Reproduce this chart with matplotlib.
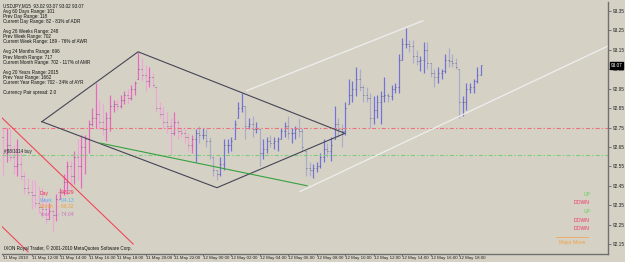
import matplotlib
matplotlib.use("Agg")
import matplotlib.pyplot as plt

plt.rcParams['lines.scale_dashes'] = False
plt.rcParams['font.family'] = ['Liberation Sans', 'DejaVu Sans']

# ---------------- data ----------------
highs = [92.75, 92.75, 92.74, 92.66, 92.69, 92.63, 92.52, 92.49, 92.48, 92.48,
         92.45, 92.44, 92.38, 92.36, 92.33, 92.41, 92.44, 92.51, 92.58, 92.58,
         92.63, 92.69, 92.71, 92.71, 92.79, 92.85, 92.98, 92.89, 92.87, 92.83,
         92.92, 92.89, 92.89, 92.92, 92.94, 92.95, 92.97, 92.99, 93.14, 93.11,
         93.07, 93.06, 93.03, 92.96, 92.88, 92.86, 92.83, 92.80, 92.83, 92.79,
         92.75, 92.74, 92.72, 92.71, 92.74, 92.76, 92.75, 92.74, 92.70, 92.60,
         92.53, 92.60, 92.69, 92.69, 92.70, 92.79, 92.88, 92.93, 92.86, 92.80,
         92.81, 92.78, 92.74, 92.69, 92.70, 92.71, 92.70, 92.70, 92.75, 92.78,
         92.81, 92.75, 92.76, 92.80, 92.75, 92.63, 92.57, 92.56, 92.57, 92.62,
         92.69, 92.67, 92.70, 92.86, 92.80, 92.77, 92.88, 93.00, 92.99, 93.06,
         93.05, 92.97, 92.96, 92.93, 92.91, 92.92, 92.94, 93.01, 92.93, 92.97,
         92.98, 93.13, 93.21, 93.26, 93.20, 93.20, 93.15, 93.12, 93.19, 93.19,
         93.08, 93.05, 93.06, 93.05, 93.13, 93.16, 93.13, 93.11, 93.05, 92.91,
         92.98, 92.98, 93.00, 93.06, 93.07]
lows = [92.50, 92.57, 92.58, 92.51, 92.50, 92.48, 92.41, 92.40, 92.33, 92.34,
        92.31, 92.29, 92.26, 92.28, 92.21, 92.27, 92.38, 92.40, 92.41, 92.44,
        92.46, 92.48, 92.44, 92.51, 92.62, 92.76, 92.75, 92.74, 92.71, 92.68,
        92.73, 92.83, 92.84, 92.85, 92.87, 92.87, 92.89, 92.92, 93.00, 92.99,
        92.94, 92.96, 92.96, 92.83, 92.80, 92.75, 92.72, 92.61, 92.71, 92.69,
        92.70, 92.67, 92.63, 92.62, 92.57, 92.67, 92.69, 92.65, 92.59, 92.50,
        92.48, 92.50, 92.53, 92.62, 92.63, 92.69, 92.80, 92.83, 92.69, 92.74,
        92.70, 92.72, 92.55, 92.59, 92.62, 92.65, 92.64, 92.63, 92.69, 92.70,
        92.69, 92.67, 92.69, 92.70, 92.63, 92.50, 92.50, 92.49, 92.52, 92.54,
        92.57, 92.60, 92.58, 92.69, 92.70, 92.65, 92.71, 92.87, 92.88, 92.91,
        92.94, 92.88, 92.88, 92.75, 92.77, 92.80, 92.77, 92.88, 92.88, 92.89,
        92.93, 92.93, 93.10, 93.16, 93.14, 93.08, 93.07, 93.04, 93.03, 93.05,
        93.01, 92.96, 92.98, 93.00, 93.03, 93.06, 93.06, 93.05, 92.80, 92.81,
        92.84, 92.93, 92.93, 92.98, 93.02]
opens = [92.70, 92.62, 92.66, 92.60, 92.55, 92.56, 92.50, 92.44, 92.42, 92.40,
         92.36, 92.34, 92.33, 92.28, 92.32, 92.30, 92.38, 92.42, 92.47, 92.55,
         92.50, 92.60, 92.55, 92.65, 92.69, 92.77, 92.80, 92.82, 92.78, 92.74,
         92.80, 92.86, 92.87, 92.86, 92.89, 92.92, 92.90, 92.95, 93.00, 93.05,
         93.02, 92.99, 93.01, 92.96, 92.85, 92.82, 92.78, 92.76, 92.72, 92.78,
         92.73, 92.72, 92.70, 92.66, 92.69, 92.72, 92.71, 92.71, 92.68, 92.60,
         92.53, 92.51, 92.56, 92.66, 92.66, 92.69, 92.80, 92.85, 92.86, 92.76,
         92.77, 92.74, 92.74, 92.62, 92.64, 92.68, 92.67, 92.68, 92.69, 92.73,
         92.76, 92.72, 92.72, 92.74, 92.73, 92.63, 92.54, 92.53, 92.54, 92.55,
         92.60, 92.64, 92.63, 92.69, 92.77, 92.74, 92.73, 92.87, 92.92, 92.95,
         93.00, 92.96, 92.92, 92.90, 92.80, 92.84, 92.88, 92.91, 92.92, 92.91,
         92.95, 92.96, 93.10, 93.18, 93.18, 93.17, 93.12, 93.09, 93.10, 93.15,
         93.08, 93.03, 93.01, 93.03, 93.04, 93.10, 93.09, 93.08, 93.05, 92.88,
         92.88, 92.95, 92.96, 92.99, 93.02]
closes = [92.62, 92.66, 92.60, 92.55, 92.56, 92.50, 92.44, 92.42, 92.40, 92.36,
          92.34, 92.33, 92.28, 92.32, 92.30, 92.38, 92.42, 92.47, 92.55, 92.50,
          92.60, 92.55, 92.65, 92.69, 92.77, 92.80, 92.82, 92.78, 92.74, 92.80,
          92.86, 92.87, 92.86, 92.89, 92.92, 92.90, 92.95, 92.98, 93.05, 93.02,
          92.99, 93.01, 92.97, 92.85, 92.82, 92.78, 92.76, 92.72, 92.78, 92.73,
          92.72, 92.70, 92.66, 92.69, 92.72, 92.71, 92.71, 92.68, 92.61, 92.53,
          92.51, 92.56, 92.66, 92.66, 92.68, 92.77, 92.85, 92.86, 92.76, 92.77,
          92.74, 92.74, 92.62, 92.64, 92.68, 92.67, 92.68, 92.69, 92.73, 92.76,
          92.72, 92.72, 92.74, 92.73, 92.65, 92.54, 92.53, 92.54, 92.55, 92.60,
          92.64, 92.63, 92.66, 92.77, 92.74, 92.73, 92.85, 92.92, 92.95, 93.00,
          92.96, 92.92, 92.90, 92.80, 92.84, 92.88, 92.91, 92.92, 92.91, 92.95,
          92.96, 93.10, 93.18, 93.18, 93.17, 93.12, 93.09, 93.10, 93.15, 93.08,
          93.03, 93.01, 93.03, 93.04, 93.10, 93.09, 93.08, 93.06, 92.88, 92.88,
          92.95, 92.96, 92.99, 93.02, 93.07]
pink_bars = 54  # first bars drawn in the pink colour scheme

time_labels = ["11 May 2010", "11 May 12:00", "11 May 14:00", "11 May 16:00",
               "11 May 18:00", "11 May 20:00", "11 May 22:00", "12 May 00:00",
               "12 May 02:00", "12 May 04:00", "12 May 06:00", "12 May 08:00",
               "12 May 10:00", "12 May 12:00", "12 May 14:00", "12 May 16:00",
               "12 May 18:00"]
time_label_bars = [0, 8, 16, 24, 32, 40, 48, 56, 64, 72, 80, 88, 96, 104, 112, 120, 128]
price_ticks = [92.15, 92.25, 92.35, 92.45, 92.55, 92.65, 92.75, 92.85, 92.95,
               93.05, 93.15, 93.25, 93.35]
last_price = 93.07

# trend lines: (bar, price) endpoints
diamond_bars = [10.9, 37.9, 95.9, 60.0, 10.9]
diamond_prices = [92.78, 93.14, 92.72, 92.44, 92.78]
green_line_bars = [27.2, 85.3]
green_line_prices = [92.67, 92.45]
red_upper_bars = [-0.3, 36.5]
red_upper_prices = [92.80, 92.15]
red_lower_bars = [-0.3, 7.0]
red_lower_prices = [92.24, 92.11]
white_upper_bars = [68.4, 117.8]
white_upper_prices = [92.94, 93.30]
white_lower_bars = [83.3, 169.7]
white_lower_prices = [92.42, 93.17]
red_level = 92.75
green_level = 92.61

info_lines = ["USDJPY,M15  93.02 93.07 93.02 93.07",
              "Avg 60 Days Range: 101",
              "Prev Day Range: 118",
              "Current Day Range: 82 - 81% of ADR",
              "",
              "Avg 26 Weeks Range: 248",
              "Prev Week Range: 702",
              "Current Week Range: 189 - 76% of AWR",
              "",
              "Avg 24 Months Range: 696",
              "Prev Month Range: 717",
              "Current Month Range: 702 - 117% of AMR",
              "",
              "Avg 20 Years Range: 2015",
              "Prev Year Range: 1662",
              "Current Year Range: 702 - 34% of AYR",
              "",
              "Currency Pair spread: 2.0"]
pivot_names = ["Day", "Week", "Month", "Year"]
pivot_values = ["93.29", "94.13", "88.32", "74.04"]
pivot_colors = ["#f03050", "#60b0f0", "#f0a040", "#d070c0"]
trend_words = ["UP", "DOWN", "UP", "DOWN", "DOWN"]

# ---------------- drawing ----------------
W, H = 625, 262
BG = "#d5d2c5"
fig = plt.figure(figsize=(W / 100, H / 100), dpi=100, facecolor=BG)

def fx(px):
    return px / W

def fy(py):
    return 1 - py / H

ax = fig.add_axes([fx(2), fy(254), (608 - 2) / W, (254 - 2) / H])
ax.set_facecolor(BG)
px_per_bar = 3.565
ax.set_xlim(-0.28, 169.7)
ax.set_ylim(92.0986, 93.3964)

tick_len = 1.0 / px_per_bar
for i in range(len(highs)):
    up = closes[i] >= opens[i]
    if i < pink_bars:
        col = "#e868be" if up else "#eea6d6"
    else:
        col = "#7474d8" if up else "#acacc8"
    ax.vlines(i, lows[i], highs[i], color=col, lw=0.9)
    ax.hlines(opens[i], i - tick_len, i, color="#505070", lw=0.5)
    ax.hlines(closes[i], i, i + tick_len, color="#505070", lw=0.5)

ax.axhline(red_level, color="#f07080", lw=0.8, dashes=[3, 1.5, 1, 1.5])
ax.axhline(green_level, color="#7ccc7c", lw=0.8, dashes=[3, 1.5, 1, 1.5])

ax.plot(white_upper_bars, white_upper_prices, color="#eeeeee", lw=0.9)
ax.plot(white_lower_bars, white_lower_prices, color="#eeeeee", lw=0.9)
ax.plot(diamond_bars, diamond_prices, color="#454558", lw=0.8)
ax.plot(green_line_bars, green_line_prices, color="#38a040", lw=0.8)
ax.plot(red_upper_bars, red_upper_prices, color="#f04858", lw=0.8)
ax.plot(red_lower_bars, red_lower_prices, color="#f04858", lw=0.8)

for s in ["left", "top"]:
    ax.spines[s].set_visible(False)
for s in ["right", "bottom"]:
    ax.spines[s].set_color("#707070")
    ax.spines[s].set_linewidth(1.0)

ax.yaxis.tick_right()
ax.set_yticks(price_ticks)
ax.set_yticklabels([f"{p:.2f}" for p in price_ticks], fontsize=3.4, color="#202020")
ax.tick_params(axis="y", length=2, width=0.5, color="#505050", pad=1.5)
ax.set_xticks(time_label_bars)
ax.set_xticklabels(time_labels, fontsize=3.2, color="#202020", ha="left")
ax.tick_params(axis="x", length=1.2, width=0.5, color="#505050", pad=0.2)

ax.text(1.004, (last_price - 92.0986) / (93.3964 - 92.0986), f"{last_price:.2f}",
        transform=ax.transAxes, fontsize=3.4, color="white", va="center", ha="left",
        bbox=dict(boxstyle="square,pad=0.15", fc="black", ec="black"))

# info block
line_y = 3.5
for t in info_lines:
    fig.text(fx(3), fy(line_y), t, fontsize=3.3, color="#101010", va="top", ha="left")
    line_y += 5.1

fig.text(fx(4), fy(151), "#88/1014 buy", fontsize=3.3, color="#202020", va="center")

for k, (n, v, c) in enumerate(zip(pivot_names, pivot_values, pivot_colors)):
    yy = 193 + k * 7
    fig.text(fx(40), fy(yy), n, fontsize=3.6, color=c, va="center", ha="left")
    fig.text(fx(58), fy(yy), "- " + v, fontsize=3.6, color=c, va="center", ha="left")

fig.text(fx(4), fy(248), "IXON Royal Trader, \u00a9 2001-2010 MetaQuotes Software Corp.",
         fontsize=3.3, color="#101010", va="center")

trend_y = [194, 202.5, 211.5, 220.5, 229]
for w, yy in zip(trend_words, trend_y):
    col = "#60d060" if w == "UP" else "#f03060"
    fig.text(fx(590), fy(yy), w, fontsize=3.6, color=col, va="center", ha="right")
fig.add_artist(plt.Line2D([fx(556), fx(588)], [fy(237), fy(237)], color="#f0a860", lw=0.6))
fig.text(fx(572), fy(242.5), "Major Move", fontsize=3.6, color="#f0a040", va="center", ha="center")

fig.savefig("out.png", dpi=100, facecolor=BG)
